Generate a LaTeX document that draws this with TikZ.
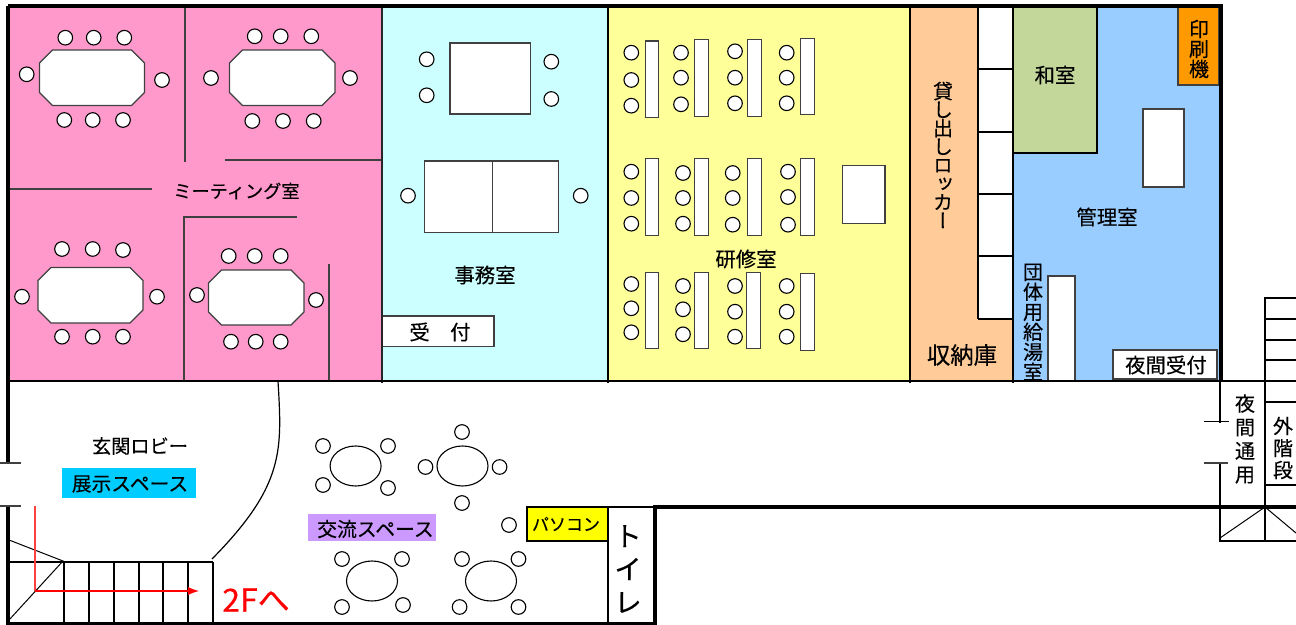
\documentclass[tikz,border=0pt]{standalone}
\usepackage{fontspec}
\setmainfont[RawFeature={embolden=0.25}]{Noto Sans CJK JP}
\newfontfamily\vfont[RawFeature={+vert;embolden=0.25}]{Noto Sans CJK JP}
\definecolor{pinkroom}{HTML}{FF99CC}
\definecolor{cyanroom}{HTML}{CCFFFF}
\definecolor{yellowroom}{HTML}{FFFF99}
\definecolor{orangeroom}{HTML}{FFCC99}
\definecolor{blueroom}{HTML}{99CCFF}
\definecolor{greenroom}{HTML}{C4D79B}
\definecolor{printer}{HTML}{FF9900}
\definecolor{showcase}{HTML}{00CCFF}
\definecolor{lounge}{HTML}{CC99FF}
\definecolor{pcbox}{HTML}{FFFF00}
\tikzset{
  chair/.style={draw=black,fill=white,line width=.55pt},
  desk/.style={draw=black!75,fill=white,line width=.6pt},
  wall/.style={draw=black,line width=1.7pt},
  partition/.style={draw=black,line width=1pt},
  thinwall/.style={draw=black!75,line width=.55pt},
  label/.style={inner sep=0pt,font=\fontsize{10.2}{12}\selectfont},
  vlabel/.style={inner sep=0pt,align=center,font=\vfont\fontsize{10}{#1}\selectfont},
}
\begin{document}
\begin{tikzpicture}
  [x=.5pt,y=-.5pt]
  \useasboundingbox (0,0) rectangle (1296,625);
  % rooms
  \fill[pinkroom] (8,7) rectangle (382,381);
  \fill[cyanroom] (382,7) rectangle (608,381);
  \fill[yellowroom] (608,7) rectangle (910,381);
  \fill[orangeroom] (910,7) rectangle (1013,381);
  \fill[blueroom] (1013,7) rectangle (1220,381);
  \fill[greenroom] (1013,7) rectangle (1097,152);
  \fill[white] (978,7) rectangle (1013,319);
  % meeting room tables
  \foreach \l/\t/\r/\b in {39.5/50/144.5/105.5,229.5/50/335/105.5,
              38/267.5/143/323,208.5/270/304/325}
    \draw[desk] ({\l+13},\t) -- ({\r-13},\t) -- (\r,{\t+13}) -- (\r,{\b-13})
      -- ({\r-13},\b) -- ({\l+13},\b) -- (\l,{\b-13}) -- (\l,{\t+13}) -- cycle;
  \foreach \x/\y in {65.3/37.7,93.7/37.7,124.3/37.7,26.7/74.3,162/80,
              64.3/120,92.7/120,123/120,
              254.7/36.3,280.7/36.3,311.3/36.3,211/78,350/78,
              252.3/121,283/121,313.7/121,
              62/249,92.7/249,123/250,22/296.7,157/296.7,
              62/336.7,92.7/336.7,123/336.7,
              228.7/256,254.7/256,280.7/256,197/295,316/300,
              231/341.7,255.7/341.7,280.7/341.7}
    \draw[chair] (\x,\y) circle (7.3);
  % meeting room partitions
  \draw[thinwall] (185,8) -- (185,162);
  \draw[thinwall] (225,160) -- (382,160);
  \draw[thinwall] (9,189) -- (152,189);
  \draw[thinwall] (297,217) -- (184,217) -- (184,381);
  \draw[thinwall] (329,264) -- (329,381);
  % office
  \draw[desk] (450,43) rectangle (530.3,114);
  \draw[desk] (424.3,161) rectangle (558.7,232.7);
  \draw[desk] (492.7,161) -- (492.7,232.7);
  \foreach \x/\y in {426.7/59.3,426.7/95.3,551.3/61.7,551.3/99,408/195.7,580.7/195.7}
    \draw[chair] (\x,\y) circle (7.3);
  \draw[desk] (382,316) rectangle (494,346.7);
  % training room
  \foreach \l/\t in {645.3/41,694.7/39.7,747.7/39.7,800.7/38.3,
              645.3/158.7,694.7/158.7,747.7/158.7,800.7/158.7,
              645.3/272.3,694.7/272.3,746.7/272.3,800.7/273.7}
    \draw[desk] (\l,\t) rectangle ({\l+13.5},{\t+76.5});
  \foreach \x/\y in {631.3/52.7,631.3/80,631.3/105.7,681/52.7,681/77.7,681/104.3,
              735/51.3,735/77.7,735/103.3,786.7/52.7,786.7/77.7,786.7/103.3,
              631.3/171.7,631.3/198,631.3/223.7,683/173,683/198,683/223.7,
              732.7/173,732.7/198,732.7/224.7,788/171.7,788/197,788/224.7,
              631.3/284,631.3/308.3,631.3/332.3,683/286,683/309.3,683/334.3,
              735/286,735/311.7,735/336.7,786.7/286,786.7/311.7,786.7/336.7}
    \draw[chair] (\x,\y) circle (7.3);
  \draw[desk] (842.3,165.7) rectangle (885,223.7);
  % staff room
  \draw[desk,fill=printer] (1178,7) rectangle (1219,85);
  \draw[desk] (1143,109) rectangle (1184,187);
  \draw[desk] (1048,276) rectangle (1075,381);
  \draw[desk] (1113,350) rectangle (1217,379);
  % room walls
  \foreach \x in {608,910,1013}
    \draw[partition] (\x,7) -- (\x,383);
  \draw[partition] (978,7) -- (978,319);
  \draw[partition,draw=black!85,line width=.8pt] (382,7) -- (382,383);
  \foreach \y in {69,132,194,256,319}
    \draw[partition] (978,\y) -- (1013,\y);
  \draw[partition] (1097,7) -- (1097,153) -- (1013,153);
  \draw[partition] (8,381) -- (1296,381);
  % lobby
  \draw[line width=.6pt] (278,381) .. controls (282,450) and (285,485) .. (212,559);
  \draw[wall] (8,6) -- (1221,6) -- (1221,381);
  \draw[wall] (8,6) -- (8,463);
  \draw[wall] (8,506) -- (8,624) -- (655,624) -- (655,507) -- (1296,507);
  \draw[thinwall] (0,463) -- (21,463);
  \draw[thinwall] (0,506) -- (21,506);
  % lounge tables
  \foreach \x/\y in {355.6/466,462.5/466,372/581,491/581}
    \draw[draw=black,line width=.55pt] (\x,\y) ellipse [x radius=25.5,y radius=20];
  \foreach \x/\y in {323/446,388/446,323/485,388/488,
              462/432,425.5/467,499.6/467,462/503,
              342/559,402/559,342/607,403/605,
              462/559,518.5/559,459.6/607,518.5/607,509/525}
    \draw[chair] (\x,\y) circle (7.3);
  \fill[showcase] (62,468) rectangle (196,498);
  \fill[lounge] (308,514) rectangle (436,541);
  % toilet and pc corner
  \draw[partition,fill=pcbox] (527,507) rectangle (608,541);
  \draw[partition] (608,507) -- (655,507);
  \draw[partition] (608,507) -- (608,624);
  % stairs up
  \draw[partition] (8,562) -- (213,562);
  \foreach \x in {64,89,114,139,163,188,213}
    \draw[partition] (\x,562) -- (\x,624);
  \draw[line width=.5pt] (9,540) -- (63,561) -- (9,620);
  \draw[red!75,line width=.6pt] (35,506) -- (35,591);
  \draw[->,>=latex,red,line width=.9pt] (35,591) -- (199,591);
  % night entrance and outside stairs
  \draw[partition] (1220,381) -- (1220,423);
  \draw[partition] (1220,463) -- (1220,541) -- (1296,541);
  \draw[thinwall,draw=black] (1204,421.5) -- (1229,421.5);
  \draw[thinwall] (1204,463) -- (1228,463);
  \draw[partition] (1296,298) -- (1265,298) -- (1265,541);
  \foreach \y in {319,340,360,402,485}
    \draw[partition] (1265,\y) -- (1296,\y);
  \draw[line width=.5pt] (1220,538) -- (1265,507) -- (1296,533);
  % labels
  \node[label,font=\fontsize{9.1}{11}\selectfont] (meeting) at (236.5,191) {ミーティング室};
  \node[label] (office) at (485,275) {事務室};
  \node[label] (reception) at (440,332) {受　付};
  \node[label] (training) at (746,259) {研修室};
  \node[label] (washitsu) at (1055,75) {和室};
  \node[label] (staff) at (1107,217) {管理室};
  \node[label] (nightdesk) at (1166,365) {夜間受付};
  \node[label,font=\fontsize{11.7}{13}\selectfont] (storage) at (962,355) {収納庫};
  \node[label,font=\fontsize{9.6}{11}\selectfont] (lobby) at (140,446) {玄関ロビー};
  \node[label,font=\fontsize{9.9}{11}\selectfont] (display) at (130,484) {展示スペース};
  \node[label,font=\fontsize{9.9}{11}\selectfont] (exchange) at (375.5,529) {交流スペース};
  \node[label,font=\fontsize{8.5}{10}\selectfont] (pc) at (566,524) {パソコン};
  \node[label,red,font=\fontsize{16}{18}\selectfont] (upstairs) at (256,600) {2Fへ};
  \node[vlabel=9.25] (locker) at (943,155) {貸\\し\\出\\し\\ロ\\ッ\\カ\\ー};
  \node[vlabel=10] (kitchen) at (1033,322) {団\\体\\用\\給\\湯\\室};
  \node[vlabel=10] (copier) at (1199,49) {印\\刷\\機};
  \node[vlabel=11.8] (nightdoor) at (1245,439) {夜\\間\\通\\用};
  \node[vlabel=11] (outstairs) at (1283,448) {外\\階\\段};
  \node[vlabel=16.5,font=\vfont\fontsize{14}{16.5}\selectfont] (toilet) at (628,569) {ト\\イ\\レ};
\end{tikzpicture}
\end{document}
